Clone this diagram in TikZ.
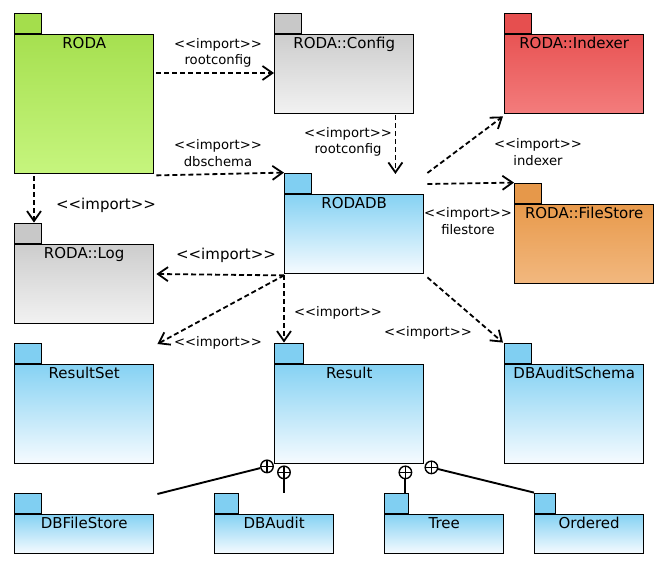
\documentclass[tikz,border=0pt]{standalone}
\usepackage{fontspec}
\setmainfont{DejaVu Sans}
\usetikzlibrary{arrows.meta,calc}
\definecolor{greentab}{HTML}{A4DE4C}
\definecolor{greentop}{HTML}{A6E050}
\definecolor{greenbot}{HTML}{C6F57E}
\definecolor{graytab}{HTML}{C8C8C8}
\definecolor{graytop}{HTML}{CDCDCD}
\definecolor{graybot}{HTML}{F2F2F2}
\definecolor{redtab}{HTML}{E64F4F}
\definecolor{redtop}{HTML}{E85454}
\definecolor{redbot}{HTML}{F37C7C}
\definecolor{orangetab}{HTML}{E6984A}
\definecolor{orangetop}{HTML}{E89A4C}
\definecolor{orangebot}{HTML}{F2B87F}
\definecolor{bluetab}{HTML}{80CFF2}
\definecolor{bluetop}{HTML}{86D2F3}
\definecolor{bluebot}{HTML}{F6FBFF}
\tikzset{
  pkgbody/.style={draw, line width=1.4pt, anchor=north west, inner sep=0pt, rectangle},
  pkgtab/.style={draw, line width=1.4pt, anchor=south west, inner sep=0pt, rectangle, minimum height=20pt},
  pkgtitle/.style={inner sep=0pt, anchor=base, font=\fontsize{15}{17}\selectfont},
  lbl/.style={inner sep=0pt, align=center, font=\fontsize{13.2}{16.5}\selectfont},
  biglbl/.style={inner sep=0pt, align=center, font=\fontsize{15}{17}\selectfont},
  dep/.style={line width=1.8pt, dash pattern=on 5pt off 3pt, -{Straight Barb[length=10pt,width=14pt]}},
  nestc/.style={circle, draw, line width=1.4pt, minimum size=12.5pt, inner sep=0pt,
    path picture={\draw[line width=1.2pt] (path picture bounding box.north) -- (path picture bounding box.south)
      (path picture bounding box.west) -- (path picture bounding box.east);}},
  nest/.style={line width=1.9pt}
}
\newcommand{\imp}{<\kern0pt<import>\kern0pt>}
\newcommand{\pkgbox}[8]{%
  \node[pkgbody, top color=#8top, bottom color=#8bot, minimum width=#4pt, minimum height=#5pt] (#1) at (#2,#3) {};
  \node[pkgtab, fill=#8tab, minimum width=#6pt] (#1tab) at (#1.north west) {};
  \node[pkgtitle] (#1title) at ([yshift=-14.5pt]#1.north) {#7};
}
\begin{document}
\begin{tikzpicture}[x=1pt,y=-1pt]
\useasboundingbox[fill=white] (0,0) rectangle (665,572);

\pkgbox{roda}{14}{34}{139}{139}{27}{RODA}{green}
\pkgbox{config}{274}{34}{139}{79}{27}{RODA::Config}{gray}
\pkgbox{indexer}{504}{34}{139}{79}{27}{RODA::Indexer}{red}
\pkgbox{rodadb}{284}{194}{139}{79}{27}{RODADB}{blue}
\pkgbox{filestore}{514}{204}{139}{79}{27}{RODA::FileStore}{orange}
\pkgbox{log}{14}{244}{139}{79}{27}{RODA::Log}{gray}
\pkgbox{resultset}{14}{364}{139}{99}{27}{ResultSet}{blue}
\pkgbox{result}{274}{364}{149}{99}{29}{Result}{blue}
\pkgbox{dbauditschema}{504}{364}{139}{99}{27}{DBAuditSchema}{blue}
\pkgbox{dbfilestore}{14}{514}{139}{39}{27}{DBFileStore}{blue}
\pkgbox{dbaudit}{214}{514}{119}{39}{24}{DBAudit}{blue}
\pkgbox{tree}{384}{514}{119}{39}{24}{Tree}{blue}
\pkgbox{ordered}{534}{514}{109}{39}{21}{Ordered}{blue}

% dependencies
\draw[dep] ([xshift=2pt,yshift=-39pt]roda.north east) -- ([yshift=-39pt]config.north west);
\draw[dep] ([xshift=2pt,yshift=-1pt]roda.south east) -- (rodadbtab.north west);
\draw[dep] ([xshift=20pt,yshift=-2pt]roda.south west) -- ([xshift=20pt]logtab.north west);
\draw[dep] ([xshift=-19pt,yshift=-1pt]config.south east) -- ([xshift=-29pt,yshift=20pt]rodadb.north east);
\draw[dep] ([xshift=3pt,yshift=21pt]rodadb.north east) -- ([xshift=-1pt,yshift=-2pt]indexer.south west);
\draw[dep] ([xshift=3pt,yshift=10pt]rodadb.north east) -- (filestoretab.north west);
\draw[dep] ([yshift=-1pt]rodadb.south west) -- ([xshift=2pt,yshift=-30pt]log.north east);
\draw[dep] ([yshift=-1pt]rodadb.south west) -- ([xshift=3pt,yshift=20pt]resultset.north east);
\draw[dep] ([yshift=-1pt]rodadb.south west) -- ([xshift=10pt]resulttab.north west);
\draw[dep] ([xshift=3pt,yshift=-3pt]rodadb.south east) -- ([xshift=-1pt]dbauditschematab.north west);

% labels
\node[lbl] (l1) at (218,53) {\imp\\rootconfig};
\node[lbl] (l2) at (218,153) {\imp\\dbschema};
\node[biglbl] (l3) at (106,205) {\imp};
\node[lbl] (l4) at (348,142) {\imp\\rootconfig};
\node[lbl] (l5) at (538,152) {\imp\\indexer};
\node[lbl] (l6) at (468,221) {\imp\\filestore};
\node[biglbl] (l7) at (226,255) {\imp};
\node[lbl] (l8) at (218,343) {\imp};
\node[lbl] (l9) at (338,313) {\imp};
\node[lbl] (l10) at (428,333) {\imp};

% nesting
\node[nestc] (n1) at ([xshift=-7pt,yshift=-2pt]result.south west) {};
\node[nestc] (n2) at ([xshift=10pt,yshift=-8pt]result.south west) {};
\node[nestc] (n3) at ([xshift=-19pt,yshift=-8pt]result.south east) {};
\node[nestc] (n4) at ([xshift=7pt,yshift=-3pt]result.south east) {};
\draw[nest] (n1) -- ([xshift=3pt,yshift=20pt]dbfilestore.north east);
\draw[nest] (n2) -- (n2 |- dbaudittab.north);
\draw[nest] (n3) -- (n3 |- treetab.north);
\draw[nest] (n4) -- (orderedtab.north west);
\end{tikzpicture}
\end{document}
